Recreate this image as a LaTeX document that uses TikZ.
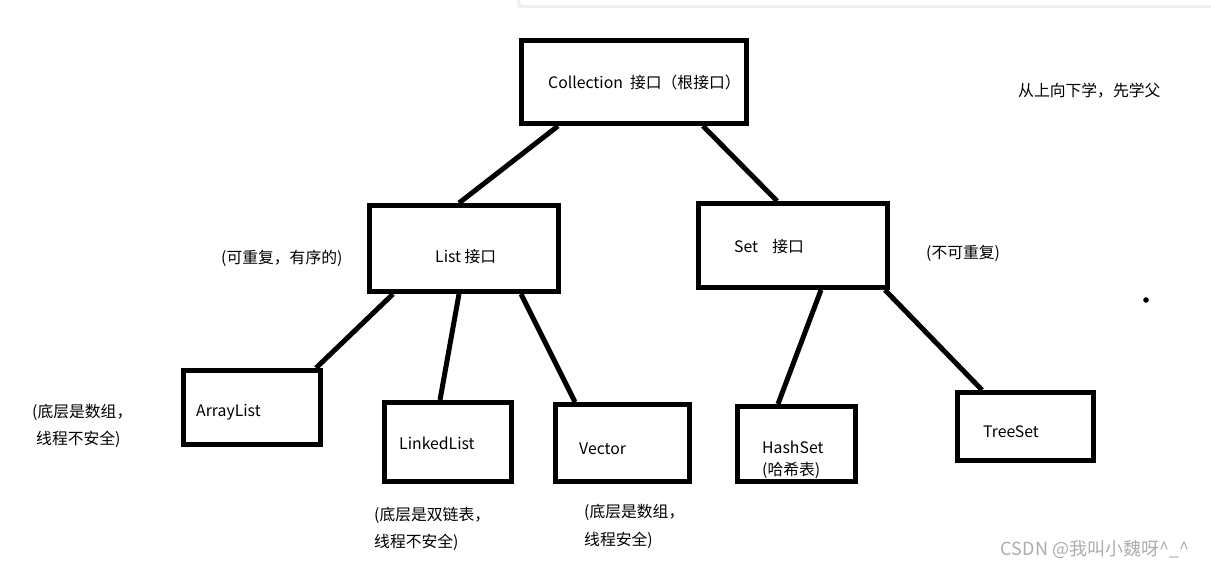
\documentclass[tikz,border=0pt]{standalone}
\usepackage{fontspec}
\setmainfont{Noto Sans CJK SC}
\begin{document}
\begin{tikzpicture}[x=1pt,y=-1pt,
  box/.style={draw=black,line width=5pt,inner sep=0pt},
  conn/.style={line width=5pt},
  txt/.style={anchor=west,inner sep=0pt,font=\fontsize{15.8}{18}\selectfont},
  wmark/.style={anchor=center,inner sep=0pt,font=\fontsize{18}{20}\selectfont,text=gray!65}]
\useasboundingbox (0,0) rectangle (1211,568);
% top panel
\fill[gray!12,rounded corners=3pt] (517,-6) rectangle (1215,8);
\fill[white,rounded corners=3pt] (520,-6) rectangle (1215,5);
% boxes
\node[box,minimum width=225,minimum height=83] (coll) at (634,82) {};
\node[box,minimum width=189,minimum height=86] (list) at (464,248.5) {};
\node[box,minimum width=189,minimum height=84] (set) at (793,245.5) {};
\node[box,minimum width=137,minimum height=74] (arr) at (252,407.5) {};
\node[box,minimum width=127,minimum height=79] (linked) at (448,442) {};
\node[box,minimum width=134,minimum height=77] (vec) at (622.5,443) {};
\node[box,minimum width=118,minimum height=75] (hash) at (796.5,444) {};
\node[box,minimum width=136,minimum height=68] (tree) at (1025.5,426.5) {};
% connectors
\draw[conn] ([xshift=-76]coll.south) -- ([xshift=-5]list.north);
\draw[conn] ([xshift=69]coll.south) -- ([xshift=-16]set.north);
\draw[conn] ([xshift=-71]list.south) -- ([xshift=64]arr.north);
\draw[conn] ([xshift=-5]list.south) -- ([xshift=-8]linked.north);
\draw[conn] ([xshift=57]list.south) -- ([xshift=-47.5]vec.north);
\draw[conn] ([xshift=28]set.south) -- ([xshift=-18.5]hash.north);
\draw[conn] ([xshift=92]set.south) -- ([xshift=-43.5]tree.north);
% labels
\node[txt] (tcoll) at (548,82) {Collection\ \ 接口（根接口）};
\node[txt] (tnote) at (1018,91) {从上向下学，先学父};
\node[txt] (tlist) at (435,257) {List 接口};
\node[txt] (tlistn) at (221,258) {(可重复，有序的)};
\node[txt] (tset) at (734,247) {Set\ \ \ \ 接口};
\node[txt] (tsetn) at (926,253) {(不可重复)};
\fill (1146,300) circle (2.8);
\node[txt] (tarr1) at (32,412) {(底层是数组，};
\node[txt] (tarr2) at (36,439) {线程不安全)};
\node[txt] (tarr) at (196,412) {ArrayList};
\node[txt] (tlinked) at (399,443) {LinkedList};
\node[txt] (tvec) at (579,449) {Vector};
\node[txt] (thash) at (762,447) {HashSet};
\node[txt] (thash2) at (762,470) {(哈希表)};
\node[txt] (ttree) at (983,432) {TreeSet};
\node[txt] (tlk1) at (374,515) {(底层是双链表，};
\node[txt] (tlk2) at (374,542) {线程不安全)};
\node[txt] (tv1) at (584,512) {(底层是数组，};
\node[txt] (tv2) at (584,540) {线程安全)};
\node[wmark] (wm) at (1095,549) {CSDN @我叫小魏呀\^{}\_\^{}};
\end{tikzpicture}
\end{document}
